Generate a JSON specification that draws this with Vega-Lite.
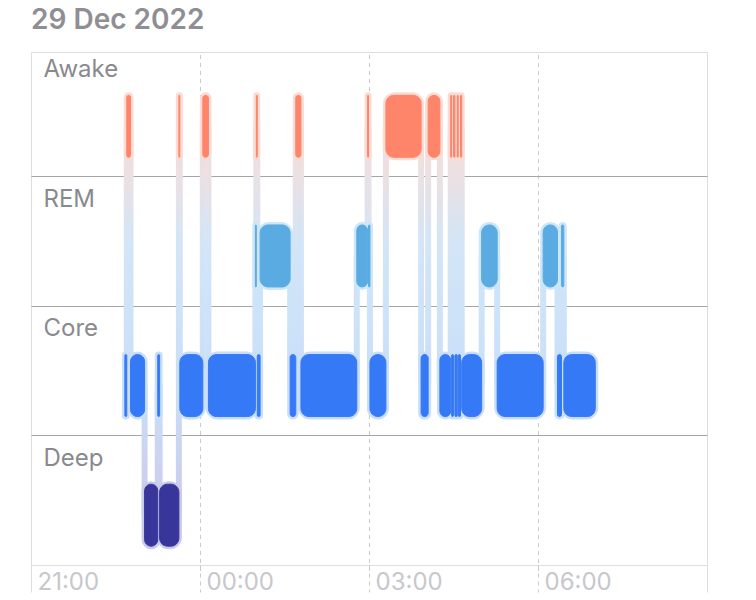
{
  "$schema": "https://vega.github.io/schema/vega-lite/v6.json",
  "width": 676,
  "height": 513,
  "autosize": {"type": "none"},
  "padding": {"left": 31, "top": 52, "right": 49, "bottom": 35},
  "title": {"text": "29 Dec 2022", "anchor": "start", "frame": "group", "fontSize": 28, "fontWeight": 600, "color": "#8e8e93", "font": "Inter", "baseline": "alphabetic", "offset": -5},
  "config": {"view": {"stroke": "#dedede", "strokeWidth": 1}, "font": "Inter"},
  "resolve": {"axis": {"x": "independent", "y": "independent"}},
  "datasets": {
    "segments": [
      {"stage": "Core", "start": "2022-12-28T22:40:00", "end": "2022-12-28T22:42:00"},
      {"stage": "Awake", "start": "2022-12-28T22:42:00", "end": "2022-12-28T22:46:00"},
      {"stage": "Core", "start": "2022-12-28T22:46:00", "end": "2022-12-28T23:01:00"},
      {"stage": "Deep", "start": "2022-12-28T23:01:00", "end": "2022-12-28T23:15:00"},
      {"stage": "Core", "start": "2022-12-28T23:15:00", "end": "2022-12-28T23:17:00"},
      {"stage": "Deep", "start": "2022-12-28T23:17:00", "end": "2022-12-28T23:37:30"},
      {"stage": "Awake", "start": "2022-12-28T23:37:30", "end": "2022-12-28T23:38:30"},
      {"stage": "Core", "start": "2022-12-28T23:38:30", "end": "2022-12-29T00:03:00"},
      {"stage": "Awake", "start": "2022-12-29T00:03:00", "end": "2022-12-29T00:09:00"},
      {"stage": "Core", "start": "2022-12-29T00:09:00", "end": "2022-12-29T00:59:00"},
      {"stage": "REM", "start": "2022-12-29T00:59:00", "end": "2022-12-29T01:00:00"},
      {"stage": "Awake", "start": "2022-12-29T01:00:00", "end": "2022-12-29T01:01:00"},
      {"stage": "Core", "start": "2022-12-29T01:01:00", "end": "2022-12-29T01:04:00"},
      {"stage": "REM", "start": "2022-12-29T01:04:00", "end": "2022-12-29T01:36:00"},
      {"stage": "Core", "start": "2022-12-29T01:36:00", "end": "2022-12-29T01:42:00"},
      {"stage": "Awake", "start": "2022-12-29T01:42:00", "end": "2022-12-29T01:47:30"},
      {"stage": "Core", "start": "2022-12-29T01:47:30", "end": "2022-12-29T02:47:00"},
      {"stage": "REM", "start": "2022-12-29T02:47:00", "end": "2022-12-29T02:58:30"},
      {"stage": "Awake", "start": "2022-12-29T02:58:30", "end": "2022-12-29T02:59:30"},
      {"stage": "REM", "start": "2022-12-29T02:59:30", "end": "2022-12-29T03:01:00"},
      {"stage": "Core", "start": "2022-12-29T03:01:00", "end": "2022-12-29T03:18:00"},
      {"stage": "Awake", "start": "2022-12-29T03:18:00", "end": "2022-12-29T03:55:30"},
      {"stage": "Core", "start": "2022-12-29T03:55:30", "end": "2022-12-29T04:03:00"},
      {"stage": "Awake", "start": "2022-12-29T04:03:00", "end": "2022-12-29T04:15:30"},
      {"stage": "Core", "start": "2022-12-29T04:15:30", "end": "2022-12-29T04:27:00"},
      {"stage": "Awake", "start": "2022-12-29T04:27:00", "end": "2022-12-29T04:28:00"},
      {"stage": "Core", "start": "2022-12-29T04:28:00", "end": "2022-12-29T04:30:00"},
      {"stage": "Awake", "start": "2022-12-29T04:30:00", "end": "2022-12-29T04:31:30"},
      {"stage": "Core", "start": "2022-12-29T04:31:30", "end": "2022-12-29T04:34:00"},
      {"stage": "Awake", "start": "2022-12-29T04:34:00", "end": "2022-12-29T04:35:00"},
      {"stage": "Core", "start": "2022-12-29T04:35:00", "end": "2022-12-29T04:37:30"},
      {"stage": "Awake", "start": "2022-12-29T04:37:30", "end": "2022-12-29T04:38:45"},
      {"stage": "Core", "start": "2022-12-29T04:38:45", "end": "2022-12-29T05:00:00"},
      {"stage": "REM", "start": "2022-12-29T05:00:00", "end": "2022-12-29T05:16:30"},
      {"stage": "Core", "start": "2022-12-29T05:16:30", "end": "2022-12-29T06:05:30"},
      {"stage": "REM", "start": "2022-12-29T06:05:30", "end": "2022-12-29T06:20:45"},
      {"stage": "Core", "start": "2022-12-29T06:20:45", "end": "2022-12-29T06:25:00"},
      {"stage": "REM", "start": "2022-12-29T06:25:00", "end": "2022-12-29T06:27:30"},
      {"stage": "Core", "start": "2022-12-29T06:27:30", "end": "2022-12-29T07:01:00"}
    ],
    "transitions": [
      {"t": "2022-12-28T22:42:00", "top": "Awake", "bottom": "Core"},
      {"t": "2022-12-28T22:46:00", "top": "Awake", "bottom": "Core"},
      {"t": "2022-12-28T23:01:00", "top": "Core", "bottom": "Deep"},
      {"t": "2022-12-28T23:15:00", "top": "Core", "bottom": "Deep"},
      {"t": "2022-12-28T23:17:00", "top": "Core", "bottom": "Deep"},
      {"t": "2022-12-28T23:37:30", "top": "Awake", "bottom": "Deep"},
      {"t": "2022-12-28T23:38:30", "top": "Awake", "bottom": "Core"},
      {"t": "2022-12-29T00:03:00", "top": "Awake", "bottom": "Core"},
      {"t": "2022-12-29T00:09:00", "top": "Awake", "bottom": "Core"},
      {"t": "2022-12-29T00:59:00", "top": "REM", "bottom": "Core"},
      {"t": "2022-12-29T01:00:00", "top": "Awake", "bottom": "REM"},
      {"t": "2022-12-29T01:01:00", "top": "Awake", "bottom": "Core"},
      {"t": "2022-12-29T01:04:00", "top": "REM", "bottom": "Core"},
      {"t": "2022-12-29T01:36:00", "top": "REM", "bottom": "Core"},
      {"t": "2022-12-29T01:42:00", "top": "Awake", "bottom": "Core"},
      {"t": "2022-12-29T01:47:30", "top": "Awake", "bottom": "Core"},
      {"t": "2022-12-29T02:47:00", "top": "REM", "bottom": "Core"},
      {"t": "2022-12-29T02:58:30", "top": "Awake", "bottom": "REM"},
      {"t": "2022-12-29T02:59:30", "top": "Awake", "bottom": "REM"},
      {"t": "2022-12-29T03:01:00", "top": "REM", "bottom": "Core"},
      {"t": "2022-12-29T03:18:00", "top": "Awake", "bottom": "Core"},
      {"t": "2022-12-29T03:55:30", "top": "Awake", "bottom": "Core"},
      {"t": "2022-12-29T04:03:00", "top": "Awake", "bottom": "Core"},
      {"t": "2022-12-29T04:15:30", "top": "Awake", "bottom": "Core"},
      {"t": "2022-12-29T04:27:00", "top": "Awake", "bottom": "Core"},
      {"t": "2022-12-29T04:28:00", "top": "Awake", "bottom": "Core"},
      {"t": "2022-12-29T04:30:00", "top": "Awake", "bottom": "Core"},
      {"t": "2022-12-29T04:31:30", "top": "Awake", "bottom": "Core"},
      {"t": "2022-12-29T04:34:00", "top": "Awake", "bottom": "Core"},
      {"t": "2022-12-29T04:35:00", "top": "Awake", "bottom": "Core"},
      {"t": "2022-12-29T04:37:30", "top": "Awake", "bottom": "Core"},
      {"t": "2022-12-29T04:38:45", "top": "Awake", "bottom": "Core"},
      {"t": "2022-12-29T05:00:00", "top": "REM", "bottom": "Core"},
      {"t": "2022-12-29T05:16:30", "top": "REM", "bottom": "Core"},
      {"t": "2022-12-29T06:05:30", "top": "REM", "bottom": "Core"},
      {"t": "2022-12-29T06:20:45", "top": "REM", "bottom": "Core"},
      {"t": "2022-12-29T06:25:00", "top": "REM", "bottom": "Core"},
      {"t": "2022-12-29T06:27:30", "top": "REM", "bottom": "Core"}
    ]
  },
  "layer": [
    {
      "data": {"name": "transitions"},
      "transform": [{"filter": "datum.top === 'Awake' && datum.bottom === 'Core'"}],
      "mark": {"type": "rect", "width": 6, "yOffset": 15, "y2Offset": 15,
        "fill": {"gradient": "linear", "x1": 0, "y1": 0, "x2": 0, "y2": 1, "stops": [{"offset": 0, "color": "#f7dcd7"}, {"offset": 0.18, "color": "#ece0e2"}, {"offset": 0.45, "color": "#d3e5f7"}, {"offset": 1, "color": "#c9dff9"}]}},
      "encoding": {
        "x": {"field": "t", "type": "temporal",
          "scale": {"domain": [{"year": 2022, "month": 12, "date": 28, "hours": 21}, {"year": 2022, "month": 12, "date": 29, "hours": 9}], "nice": false},
          "axis": {"orient": "bottom", "title": null, "values": [{"year": 2022, "month": 12, "date": 28, "hours": 21}], "format": "%H:%M",
            "labelAlign": "left", "labelBaseline": "alphabetic", "labelPadding": -3, "labelOffset": 6,
            "labelFlush": false, "labelOverlap": false, "labelColor": "#c7c7cc", "labelFontSize": 24, "labelFont": "Inter",
            "ticks": true, "tickSize": 27, "tickColor": "#dedede", "grid": false, "domain": false}},
        "y": {"field": "top", "type": "nominal", "bandPosition": 0.5, "axis": null,
          "scale": {"domain": ["Awake", "REM", "Core", "Deep"], "range": [-5.5, 513], "paddingInner": 0, "paddingOuter": 0}},
        "y2": {"field": "bottom", "bandPosition": 0.5}
      }
    },
    {
      "data": {"name": "transitions"},
      "transform": [{"filter": "datum.top === 'Awake' && datum.bottom === 'REM'"}],
      "mark": {"type": "rect", "width": 6, "yOffset": 15, "y2Offset": 15,
        "fill": {"gradient": "linear", "x1": 0, "y1": 0, "x2": 0, "y2": 1, "stops": [{"offset": 0, "color": "#f7dcd7"}, {"offset": 0.38, "color": "#e9e1e6"}, {"offset": 1, "color": "#cfe6f8"}]}},
      "encoding": {
        "x": {"field": "t", "type": "temporal",
          "axis": {"orient": "bottom", "title": null, "values": [{"year": 2022, "month": 12, "date": 29, "hours": 9}], "labels": false,
            "ticks": true, "tickSize": 27, "tickColor": "#dedede", "grid": false, "domain": false}},
        "y": {"field": "top", "type": "nominal", "bandPosition": 0.5, "axis": null},
        "y2": {"field": "bottom", "bandPosition": 0.5}
      }
    },
    {
      "data": {"name": "transitions"},
      "transform": [{"filter": "datum.top === 'REM' && datum.bottom === 'Core'"}],
      "mark": {"type": "rect", "width": 6, "yOffset": 15, "y2Offset": 15,
        "fill": {"gradient": "linear", "x1": 0, "y1": 0, "x2": 0, "y2": 1, "stops": [{"offset": 0, "color": "#cfe6f8"}, {"offset": 1, "color": "#c9dff9"}]}},
      "encoding": {
        "x": {"field": "t", "type": "temporal", "axis": null},
        "y": {"field": "top", "type": "nominal", "bandPosition": 0.5, "axis": null},
        "y2": {"field": "bottom", "bandPosition": 0.5}
      }
    },
    {
      "data": {"name": "transitions"},
      "transform": [{"filter": "datum.top === 'Core' && datum.bottom === 'Deep'"}],
      "mark": {"type": "rect", "width": 6, "yOffset": 15, "y2Offset": 15,
        "fill": {"gradient": "linear", "x1": 0, "y1": 0, "x2": 0, "y2": 1, "stops": [{"offset": 0, "color": "#c9dff9"}, {"offset": 0.45, "color": "#cbd6f1"}, {"offset": 1, "color": "#cacbea"}]}},
      "encoding": {
        "x": {"field": "t", "type": "temporal", "axis": null},
        "y": {"field": "top", "type": "nominal", "bandPosition": 0.5, "axis": null},
        "y2": {"field": "bottom", "bandPosition": 0.5}
      }
    },
    {
      "data": {"name": "transitions"},
      "transform": [{"filter": "datum.top === 'Awake' && datum.bottom === 'Deep'"}],
      "mark": {"type": "rect", "width": 6, "yOffset": 15, "y2Offset": 15,
        "fill": {"gradient": "linear", "x1": 0, "y1": 0, "x2": 0, "y2": 1, "stops": [{"offset": 0, "color": "#f7dcd7"}, {"offset": 0.12, "color": "#ece0e2"}, {"offset": 0.3, "color": "#d3e5f7"}, {"offset": 0.65, "color": "#c9dff9"}, {"offset": 1, "color": "#cacbea"}]}},
      "encoding": {
        "x": {"field": "t", "type": "temporal", "axis": null},
        "y": {"field": "top", "type": "nominal", "bandPosition": 0.5, "axis": null},
        "y2": {"field": "bottom", "bandPosition": 0.5}
      }
    },
    {
      "data": {"name": "segments"},
      "mark": {"type": "bar", "height": 62, "yOffset": 15, "cornerRadius": 9, "strokeWidth": 6},
      "encoding": {
        "x": {"field": "start", "type": "temporal",
          "axis": {"orient": "bottom", "title": null, "values": [{"year": 2022, "month": 12, "date": 29, "hours": 0}, {"year": 2022, "month": 12, "date": 29, "hours": 3}, {"year": 2022, "month": 12, "date": 29, "hours": 6}], "format": "%H:%M",
            "labelAlign": "left", "labelBaseline": "alphabetic", "labelPadding": -3, "labelOffset": 6,
            "labelFlush": false, "labelOverlap": false, "labelColor": "#c7c7cc", "labelFontSize": 24, "labelFont": "Inter",
            "ticks": true, "tickSize": 27, "tickColor": "#cacaca", "tickDash": [4, 4],
            "grid": true, "gridColor": "#cacaca", "gridDash": [4, 4], "domain": false}},
        "x2": {"field": "end"},
        "y": {"field": "stage", "type": "nominal",
          "axis": {"orient": "left", "title": null, "ticks": false, "domain": false, "grid": false,
            "labelAlign": "left", "labelBaseline": "alphabetic", "labelPadding": -12, "labelOffset": -34.3,
            "labelColor": "#8a8a8e", "labelFontSize": 24, "labelFont": "Inter"}},
        "fill": {"condition": [{"test": "datum.stage === 'Awake'", "value": "#fadcd5"}, {"test": "datum.stage === 'REM'", "value": "#cde6f8"}, {"test": "datum.stage === 'Deep'", "value": "#cacbea"}], "value": "#c9dff9"},
        "stroke": {"condition": [{"test": "datum.stage === 'Awake'", "value": "#fadcd5"}, {"test": "datum.stage === 'REM'", "value": "#cde6f8"}, {"test": "datum.stage === 'Deep'", "value": "#cacbea"}], "value": "#c9dff9"}
      }
    },
    {
      "data": {"name": "segments"},
      "mark": {"type": "bar", "height": 62, "yOffset": 15, "cornerRadius": 8, "strokeWidth": 1},
      "encoding": {
        "x": {"field": "start", "type": "temporal", "axis": null},
        "x2": {"field": "end"},
        "y": {"field": "stage", "type": "nominal",
          "axis": {"orient": "left", "title": null, "values": ["REM", "Core", "Deep"], "labels": false, "ticks": false, "domain": false,
            "grid": true, "gridColor": "#a5a5a5", "tickOffset": -64.8}},
        "fill": {"condition": [{"test": "datum.stage === 'Awake'", "value": "#fe846a"}, {"test": "datum.stage === 'REM'", "value": "#5aabe2"}, {"test": "datum.stage === 'Deep'", "value": "#38369b"}], "value": "#3579f6"},
        "stroke": {"condition": [{"test": "datum.stage === 'Awake'", "value": "#fe846a"}, {"test": "datum.stage === 'REM'", "value": "#5aabe2"}, {"test": "datum.stage === 'Deep'", "value": "#38369b"}], "value": "#3579f6"}
      }
    }
  ]
}
